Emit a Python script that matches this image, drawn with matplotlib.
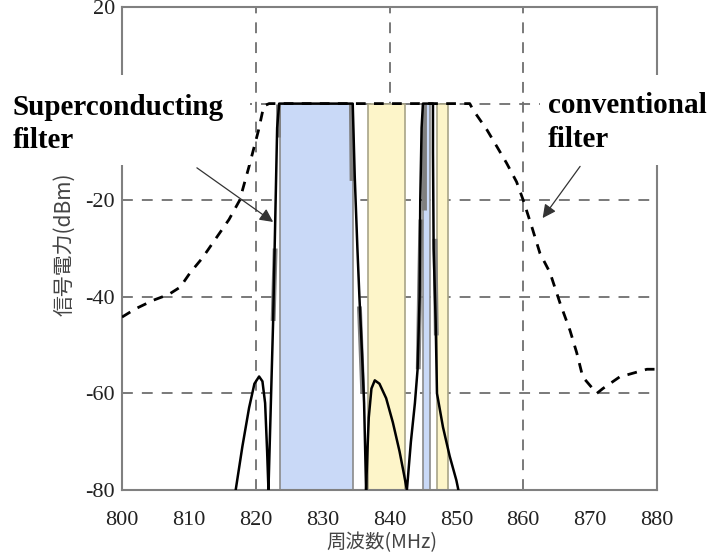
import matplotlib
matplotlib.use('Agg')
import matplotlib.pyplot as plt
from matplotlib.patches import Rectangle

plt.rcParams['axes.unicode_minus'] = False

# 轴刻度
x_ticks = [800, 810, 820, 830, 840, 850, 860, 870, 880]
y_ticks = [-80, -60, -40, -20, 0, 20]
y_tick_labels = ['-80', '-60', '-40', '-20', '', '20']
grid_x = [820, 840, 860]
grid_y = [-60, -40, -20, 0]

# 通带 (MHz)
blue_bands = [(823.6, 834.5), (845.0, 846.0)]
yellow_bands = [(836.8, 842.3), (847.1, 848.7)]
band_top = 0
band_bottom = -80

# 超导滤波器 (实线)
sc_freq = [817.0, 818.0, 819.0, 819.8, 820.5, 821.0, 821.4, 821.7, 821.9,
           822.3, 822.6, 822.9, 823.2, 823.5,
           834.5, 834.8, 835.2, 835.5, 835.9, 836.2, 836.5,
           836.7, 836.9, 837.3, 837.8, 838.5, 839.5, 840.5, 841.5, 842.2, 842.6,
           843.2, 843.8, 844.2, 844.5, 844.6, 844.8, 845.0,
           846.5, 846.5, 846.6, 846.9, 847.1, 848.0, 849.0, 850.0, 850.3]
sc_db = [-80, -71, -63, -58, -56.5, -57.5, -62, -72, -80,
         -60, -45, -25, -5, 0,
         0, -15, -30, -40, -52, -62, -80,
         -72, -65, -59, -57.3, -58, -61, -66, -72, -77, -80,
         -70, -62, -55, -40, -20, -5, 0,
         0, -10, -30, -45, -60, -67, -73, -78, -80]

# 测量边沿 (灰色粗线)
edge_freq = [[823.4, 823.4], [822.9, 822.6], [834.3, 834.4], [835.5, 836.0],
             [844.3, 844.5, 844.7], [845.1, 845.1], [846.8, 847.0]]
edge_db = [[0, -7], [-30, -45], [0, -16], [-42, -60],
           [-55, -38, -24], [0, -22], [-28, -48]]

# 传统滤波器 (虚线)
conv_freq = [800, 802, 804.7, 807, 808.7, 810.2, 812, 814, 816, 817.6, 819,
             820.4, 821.2, 822, 852, 852.5, 854.6, 856.1, 857.5, 859, 860,
             861.3, 862.5, 864, 865.5, 867, 868, 868.9, 871, 871.9, 874.4, 878.5, 880]
conv_db = [-44.2, -42.5, -40.7, -39.5, -38, -35, -32, -28, -24, -20, -13,
           -5.6, -0.5, 0, 0, -1.3, -5.5, -9, -12.3, -16.2, -20,
           -25.6, -31, -35, -41.3, -47, -51.6, -56.6, -60, -59, -56.6, -55, -55]

serif = ['Liberation Serif', 'DejaVu Serif']
cjk = ['Noto Sans CJK JP', 'DejaVu Sans']

fig = plt.figure(figsize=(7.11, 5.55), dpi=100)
ax = fig.add_axes([122 / 711, 1 - 490 / 555, 535 / 711, 483 / 555])
ax.set_xlim(800, 880)
ax.set_ylim(-80, 20)

# 网格线
for gx in grid_x:
    ax.axvline(gx, color='#6e6e6e', lw=1.3, dashes=(6, 5), zorder=1)
for gy in grid_y:
    ax.axhline(gy, xmax=0.987, color='#6e6e6e', lw=1.3, dashes=(6, 5), zorder=1)

# 通带填充
for lo, hi in blue_bands:
    ax.fill_between([lo, hi], band_bottom, band_top, facecolor='#c9d9f7',
                    edgecolor='#8a8a8a', lw=1.2, zorder=2)
for lo, hi in yellow_bands:
    ax.fill_between([lo, hi], band_bottom, band_top, facecolor='#fdf5c9',
                    edgecolor='#a8a488', lw=1.2, zorder=2)

for fx, fy in zip(edge_freq, edge_db):
    ax.plot(fx, fy, color='#7f7f7f', lw=3.5, solid_capstyle='butt', zorder=3)

ax.plot(sc_freq, sc_db, color='black', lw=1.8, zorder=4)
ax.plot(conv_freq, conv_db, color='black', lw=2.0, dashes=(3.5, 3), zorder=4)

for sp in ax.spines.values():
    sp.set_color('#808080')
    sp.set_linewidth(1.5)

ax.set_xticks(x_ticks)
ax.set_yticks(y_ticks)
ax.set_yticklabels(y_tick_labels)
ax.tick_params(length=0, labelsize=16, labelcolor='#222222')
ax.tick_params(axis='x', pad=15)
ax.tick_params(axis='y', pad=5)
for lab in ax.get_xticklabels() + ax.get_yticklabels():
    lab.set_family(serif)

ax.set_xlabel('周波数(MHz)', family=cjk, fontsize=14, color='#444444')
ax.xaxis.set_label_coords(0.486, -0.087)
ax.set_ylabel('信号電力(dBm)', family=cjk, fontsize=15, color='#444444')
ax.yaxis.set_label_coords(-0.088, 0.508)

# 箭头
ax.annotate('', xy=(822.6, -24.5), xytext=(811.2, -13.3),
            arrowprops=dict(arrowstyle='-|>', color='#333333', lw=0.9,
                            mutation_scale=20, shrinkA=0, shrinkB=0),
            annotation_clip=False, zorder=6)
ax.annotate('', xy=(862.9, -23.7), xytext=(868.5, -13.0),
            arrowprops=dict(arrowstyle='-|>', color='#333333', lw=0.9,
                            mutation_scale=20, shrinkA=0, shrinkB=0),
            annotation_clip=False, zorder=6)

# 白色文字框
fig.add_artist(Rectangle((0, 1 - 165 / 555), 250 / 711, 90 / 555,
                         transform=fig.transFigure, facecolor='white',
                         edgecolor='none', zorder=5))
fig.add_artist(Rectangle((540 / 711, 1 - 165 / 555), 171 / 711, 90 / 555,
                         transform=fig.transFigure, facecolor='white',
                         edgecolor='none', zorder=5))
fig.text(13 / 711, 1 - 115 / 555, 'Superconducting', family=serif,
         fontsize=21, fontweight='bold', va='baseline', zorder=6)
fig.text(13 / 711, 1 - 148 / 555, 'filter', family=serif,
         fontsize=21, fontweight='bold', va='baseline', zorder=6)
fig.text(548 / 711, 1 - 113 / 555, 'conventional', family=serif,
         fontsize=21, fontweight='bold', va='baseline', zorder=6)
fig.text(548 / 711, 1 - 147 / 555, 'filter', family=serif,
         fontsize=21, fontweight='bold', va='baseline', zorder=6)

fig.savefig('out.png', dpi=100)
